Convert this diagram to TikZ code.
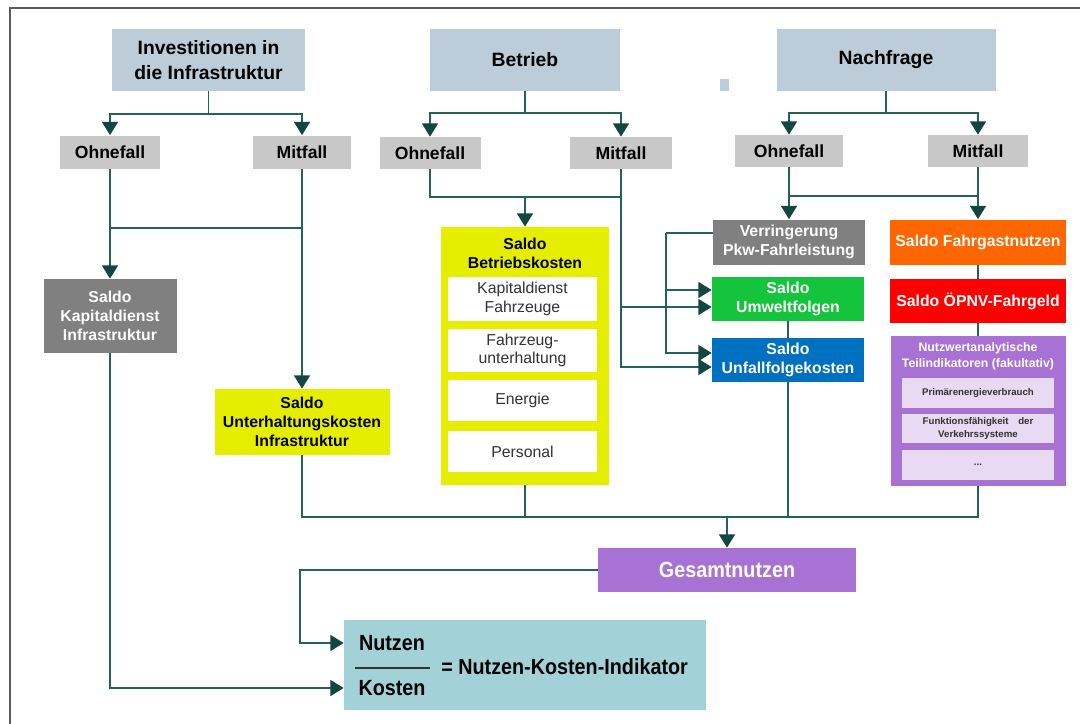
\documentclass[tikz,border=0pt]{standalone}
\usepackage{fontspec}
\setmainfont{Liberation Sans}
\newfontfamily\narrowfont[FakeStretch=0.9]{Liberation Sans}
\usetikzlibrary{arrows.meta,calc}
\definecolor{TitleBlue}{RGB}{188,205,217}
\definecolor{CaseGray}{RGB}{200,200,200}
\definecolor{DarkGray}{RGB}{128,128,128}
\definecolor{SaldoYellow}{RGB}{230,238,0}
\definecolor{EnvGreen}{RGB}{20,196,60}
\definecolor{AccBlue}{RGB}{0,112,192}
\definecolor{FareOrange}{RGB}{255,102,0}
\definecolor{FareRed}{RGB}{255,0,0}
\definecolor{UtilPurple}{RGB}{168,114,212}
\definecolor{UtilLight}{RGB}{232,218,242}
\definecolor{RatioTeal}{RGB}{162,210,216}
\definecolor{LineTeal}{RGB}{36,98,88}
\definecolor{ArrowTeal}{RGB}{18,70,62}
\definecolor{FrameGray}{RGB}{90,90,90}

\begin{document}
\begin{tikzpicture}[x=0.02cm,y=-0.02cm,
    bx/.style 2 args={minimum width=#1*0.02cm,minimum height=#2*0.02cm,
                      inner sep=1pt,align=center},
    head/.style={fill=TitleBlue,font=\fontsize{11}{14}\selectfont\bfseries},
    casebox/.style={fill=CaseGray,font=\fontsize{10}{12}\selectfont\bfseries},
    saldo/.style={font=\fontsize{9}{11}\selectfont\bfseries,align=center,inner sep=1pt},
    item/.style={fill=white,text=black!80,font=\fontsize{9}{10.5}\selectfont},
    subitem/.style={fill=UtilLight,text=black!80,font=\fontsize{5.5}{7.5}\selectfont\bfseries},
    ratio/.style={font=\narrowfont\fontsize{12.5}{15}\selectfont\bfseries,inner sep=0pt},
    ln/.style={draw=LineTeal,line width=1pt},
    arr/.style={ln,-{Triangle[width=9pt,length=7.5pt,color=ArrowTeal]}}
  ]
  \useasboundingbox (0,0) rectangle (1080,724);
  % frame
  \draw[FrameGray,line width=1.2pt] (1080,8) -- (10,8) -- (10,724);

  % top row
  \node[head,bx={193}{62}] (inv)  at (208.5,60) {Investitionen in\\die Infrastruktur};
  \node[head,bx={190}{62}] (bet)  at (525,60)   {Betrieb};
  \node[head,bx={219}{62}] (nach) at (886,60)   {Nachfrage};
  \node[fill=TitleBlue,bx={9}{12},inner sep=0pt] (mark) at (724.5,85) {};

  % Ohnefall / Mitfall
  \node[casebox,bx={100}{33}] (oh1) at (110,152) {Ohnefall};
  \node[casebox,bx={98}{33}]  (mi1) at (302,152) {Mitfall};
  \node[casebox,bx={101}{32}] (oh2) at (430,153) {Ohnefall};
  \node[casebox,bx={102}{32}] (mi2) at (621,153) {Mitfall};
  \node[casebox,bx={108}{32}] (oh3) at (789,151) {Ohnefall};
  \node[casebox,bx={100}{32}] (mi3) at (978,151) {Mitfall};

  % Investitionen
  \node[saldo,fill=DarkGray,text=white,bx={133}{74}] (kap) at (110,316)
    {Saldo\\Kapitaldienst\\Infrastruktur};
  \node[saldo,fill=SaldoYellow,bx={175}{66}] (unt) at (302,422)
    {Saldo\\Unterhaltungskosten\\Infrastruktur};

  % Betrieb
  \node[fill=SaldoYellow,bx={168}{258}] (bk) at (525,356) {};
  \node[saldo] (bkt) at (525,253.5) {Saldo\\Betriebskosten};
  \node[item,bx={149}{44}] (k1) at (522.5,299)   {Kapitaldienst\\Fahrzeuge};
  \node[item,bx={149}{43}] (k2) at (522.5,350.5) {Fahrzeug-\\unterhaltung};
  \node[item,bx={149}{41}] (k3) at (522.5,400.5) {Energie};
  \node[item,bx={149}{41}] (k4) at (522.5,451.5) {Personal};

  % Nachfrage
  \node[saldo,fill=DarkGray,text=white,bx={152}{45}] (ver) at (789,242)
    {Verringerung\\Pkw-Fahrleistung};
  \node[saldo,fill=EnvGreen,text=white,bx={152}{44}] (umw) at (788,299)
    {Saldo\\Umweltfolgen};
  \node[saldo,fill=AccBlue,text=white,bx={152}{44}] (unf) at (788,360)
    {Saldo\\Unfallfolgekosten};
  \node[saldo,fill=FareOrange,text=white,bx={176}{45}] (fg) at (978,242)
    {Saldo Fahrgastnutzen};
  \node[saldo,fill=FareRed,text=white,bx={176}{44}] (oep) at (978,301)
    {Saldo ÖPNV-Fahrgeld};
  \node[fill=UtilPurple,bx={175}{150}] (nw) at (978,411) {};
  \node[saldo,text=white,font=\fontsize{7}{9}\selectfont\bfseries] (nwt) at (978,356)
    {Nutzwertanalytische\\Teilindikatoren (fakultativ)};
  \node[subitem,bx={152}{30}] (p1) at (978,393)   {Primärenergieverbrauch};
  \node[subitem,bx={152}{29}] (p2) at (978,428.5) {Funktionsfähigkeit\quad der\\Verkehrssysteme};
  \node[subitem,bx={152}{30}] (p3) at (978,465)   {...};

  % result
  \node[fill=UtilPurple,text=white,ratio,bx={258}{44}] (ges) at (727,570) {Gesamtnutzen};
  \node[fill=RatioTeal,bx={362}{90}] (nk) at (525,665) {};
  \node[ratio] (nz) at (392,643) {Nutzen};
  \node[ratio] (ks) at (392,688) {Kosten};
  \draw[black!80,line width=1.2pt] (355,668) -- (430,668);
  \node[ratio,anchor=west] (ind) at (441,667) {= Nutzen-Kosten-Indikator};

  % connectors: top row to cases
  \coordinate (invj)  at (208.5,114);
  \coordinate (betj)  at (525,113);
  \coordinate (nachj) at (886,113);
  \draw[ln] (inv) -- (invj);
  \draw[arr] (invj) -| (oh1);
  \draw[arr] (invj) -| (mi1);
  \draw[ln] (bet) -- (betj);
  \draw[arr] (betj) -| (oh2);
  \draw[arr] (betj) -| (mi2);
  \draw[ln] (nach) -- (nachj);
  \draw[arr] (nachj) -| (oh3);
  \draw[arr] (nachj) -| (mi3);

  % Investitionen
  \coordinate (ij1) at (110,228);
  \coordinate (ij2) at (302,228);
  \draw[arr] (oh1) -- (kap);
  \draw[arr] (mi1) -- (unt);
  \draw[ln] (ij1) -- (ij2);

  % Betrieb
  \coordinate (bj) at (525,197);
  \coordinate (umwA) at ($(umw.west)+(0,-9)$);
  \coordinate (umwB) at ($(umw.west)+(0,8)$);
  \coordinate (unfA) at ($(unf.west)+(0,-7)$);
  \coordinate (unfB) at ($(unf.west)+(0,7)$);
  \draw[ln] (oh2) |- (bj);
  \draw[ln] (bj) -- (mi2 |- bj);
  \draw[arr] (bj) -- (bk);
  \draw[arr] (mi2) |- (unfB);
  \draw[arr] (mi2 |- umwB) -- (umwB);

  % Nachfrage
  \coordinate (verl) at (666,233);
  \coordinate (nj1) at (789,196);
  \coordinate (nj2) at (978,196);
  \draw[arr] (oh3) -- (ver);
  \draw[arr] (mi3) -- (fg);
  \draw[ln] (nj1) -- (nj2);
  \draw[ln] (ver.west |- verl) -- (verl);
  \draw[arr] (verl) |- (umwA);
  \draw[arr] (verl) |- (unfA);
  \draw[ln] (umw) -- (unf);
  \draw[ln] (fg) -- (oep);
  \draw[ln] (oep) -- (nw);

  % collect to Gesamtnutzen
  \coordinate (col) at (727,517);
  \draw[ln] (unt) |- (col);
  \draw[ln] (bk) |- (col);
  \draw[ln] (unf) |- (col);
  \draw[ln] (nw) |- (col);
  \draw[arr] (col) -- (ges);

  % ratio
  \coordinate (gturn) at (300,643);
  \draw[arr] (ges) -| (gturn) -- (nk.west |- nz);
  \draw[arr] (kap) |- (nk.west |- ks);
\end{tikzpicture}
\end{document}
